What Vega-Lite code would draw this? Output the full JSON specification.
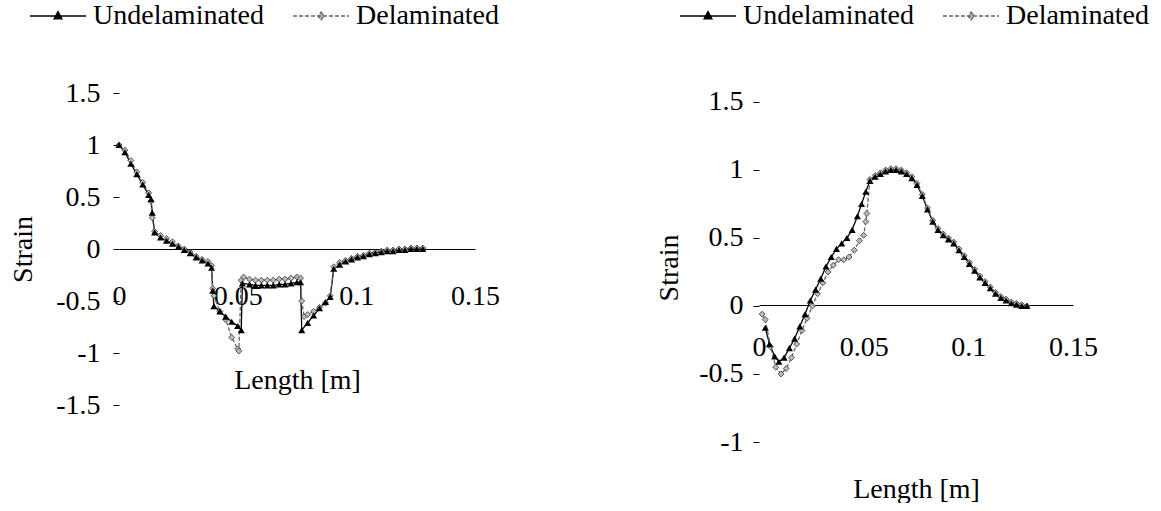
{
  "$schema": "https://vega.github.io/schema/vega-lite/v6.json",
  "padding": {"left": 9, "top": 1, "right": 0, "bottom": 0},
  "background": "white",
  "config": {
    "font": "Liberation Serif",
    "view": {"stroke": null},
    "axis": {"labelFont": "Liberation Serif", "titleFont": "Liberation Serif", "labelFontSize": 28, "titleFontSize": 28, "titleFontWeight": "normal", "labelColor": "#000", "titleColor": "#000", "grid": false, "tickColor": "#000", "domainColor": "#000", "labelFlush": false, "labelOverlap": false},
    "legend": {"labelFont": "Liberation Serif", "labelFontSize": 28, "labelColor": "#000", "labelLimit": 0}
  },
  "datasets": {
    "left": [
      {"series": "Undelaminated", "x": 0.0, "y": 1.0},
      {"series": "Undelaminated", "x": 0.0025, "y": 0.93},
      {"series": "Undelaminated", "x": 0.005, "y": 0.82},
      {"series": "Undelaminated", "x": 0.0075, "y": 0.72},
      {"series": "Undelaminated", "x": 0.01, "y": 0.62},
      {"series": "Undelaminated", "x": 0.0125, "y": 0.52},
      {"series": "Undelaminated", "x": 0.0135, "y": 0.48},
      {"series": "Undelaminated", "x": 0.014, "y": 0.35},
      {"series": "Undelaminated", "x": 0.015, "y": 0.16},
      {"series": "Undelaminated", "x": 0.0175, "y": 0.11},
      {"series": "Undelaminated", "x": 0.02, "y": 0.08},
      {"series": "Undelaminated", "x": 0.0225, "y": 0.05},
      {"series": "Undelaminated", "x": 0.025, "y": 0.02},
      {"series": "Undelaminated", "x": 0.0275, "y": -0.01},
      {"series": "Undelaminated", "x": 0.03, "y": -0.04},
      {"series": "Undelaminated", "x": 0.0325, "y": -0.08},
      {"series": "Undelaminated", "x": 0.035, "y": -0.11},
      {"series": "Undelaminated", "x": 0.0375, "y": -0.14},
      {"series": "Undelaminated", "x": 0.039, "y": -0.18},
      {"series": "Undelaminated", "x": 0.0395, "y": -0.4},
      {"series": "Undelaminated", "x": 0.04, "y": -0.55},
      {"series": "Undelaminated", "x": 0.0425, "y": -0.6},
      {"series": "Undelaminated", "x": 0.045, "y": -0.65},
      {"series": "Undelaminated", "x": 0.0475, "y": -0.7},
      {"series": "Undelaminated", "x": 0.05, "y": -0.74},
      {"series": "Undelaminated", "x": 0.0515, "y": -0.78},
      {"series": "Undelaminated", "x": 0.052, "y": -0.33},
      {"series": "Undelaminated", "x": 0.055, "y": -0.34},
      {"series": "Undelaminated", "x": 0.0575, "y": -0.35},
      {"series": "Undelaminated", "x": 0.06, "y": -0.35},
      {"series": "Undelaminated", "x": 0.0625, "y": -0.35},
      {"series": "Undelaminated", "x": 0.065, "y": -0.35},
      {"series": "Undelaminated", "x": 0.0675, "y": -0.34},
      {"series": "Undelaminated", "x": 0.07, "y": -0.34},
      {"series": "Undelaminated", "x": 0.0725, "y": -0.33},
      {"series": "Undelaminated", "x": 0.075, "y": -0.32},
      {"series": "Undelaminated", "x": 0.0765, "y": -0.32},
      {"series": "Undelaminated", "x": 0.077, "y": -0.78},
      {"series": "Undelaminated", "x": 0.0795, "y": -0.71},
      {"series": "Undelaminated", "x": 0.082, "y": -0.64},
      {"series": "Undelaminated", "x": 0.0845, "y": -0.57},
      {"series": "Undelaminated", "x": 0.087, "y": -0.51},
      {"series": "Undelaminated", "x": 0.089, "y": -0.46},
      {"series": "Undelaminated", "x": 0.0905, "y": -0.19},
      {"series": "Undelaminated", "x": 0.093, "y": -0.15},
      {"series": "Undelaminated", "x": 0.0955, "y": -0.12},
      {"series": "Undelaminated", "x": 0.098, "y": -0.1},
      {"series": "Undelaminated", "x": 0.1005, "y": -0.08},
      {"series": "Undelaminated", "x": 0.103, "y": -0.07},
      {"series": "Undelaminated", "x": 0.1055, "y": -0.05},
      {"series": "Undelaminated", "x": 0.108, "y": -0.04},
      {"series": "Undelaminated", "x": 0.1105, "y": -0.03},
      {"series": "Undelaminated", "x": 0.113, "y": -0.02},
      {"series": "Undelaminated", "x": 0.1155, "y": -0.02},
      {"series": "Undelaminated", "x": 0.118, "y": -0.01},
      {"series": "Undelaminated", "x": 0.1205, "y": -0.01},
      {"series": "Undelaminated", "x": 0.123, "y": 0.0},
      {"series": "Undelaminated", "x": 0.1255, "y": 0.0},
      {"series": "Undelaminated", "x": 0.128, "y": 0.0},
      {"series": "Delaminated", "x": 0.0, "y": 1.0},
      {"series": "Delaminated", "x": 0.0025, "y": 0.95},
      {"series": "Delaminated", "x": 0.005, "y": 0.85},
      {"series": "Delaminated", "x": 0.0075, "y": 0.74},
      {"series": "Delaminated", "x": 0.01, "y": 0.64},
      {"series": "Delaminated", "x": 0.0125, "y": 0.54},
      {"series": "Delaminated", "x": 0.0135, "y": 0.46},
      {"series": "Delaminated", "x": 0.014, "y": 0.3},
      {"series": "Delaminated", "x": 0.015, "y": 0.17},
      {"series": "Delaminated", "x": 0.0175, "y": 0.13},
      {"series": "Delaminated", "x": 0.02, "y": 0.1},
      {"series": "Delaminated", "x": 0.0225, "y": 0.07},
      {"series": "Delaminated", "x": 0.025, "y": 0.03},
      {"series": "Delaminated", "x": 0.0275, "y": 0.0},
      {"series": "Delaminated", "x": 0.03, "y": -0.03},
      {"series": "Delaminated", "x": 0.0325, "y": -0.07},
      {"series": "Delaminated", "x": 0.035, "y": -0.1},
      {"series": "Delaminated", "x": 0.0375, "y": -0.12},
      {"series": "Delaminated", "x": 0.039, "y": -0.16},
      {"series": "Delaminated", "x": 0.0395, "y": -0.38},
      {"series": "Delaminated", "x": 0.04, "y": -0.45},
      {"series": "Delaminated", "x": 0.0425, "y": -0.6},
      {"series": "Delaminated", "x": 0.045, "y": -0.68},
      {"series": "Delaminated", "x": 0.0475, "y": -0.85},
      {"series": "Delaminated", "x": 0.05, "y": -0.96},
      {"series": "Delaminated", "x": 0.0505, "y": -0.98},
      {"series": "Delaminated", "x": 0.0515, "y": -0.3},
      {"series": "Delaminated", "x": 0.0525, "y": -0.27},
      {"series": "Delaminated", "x": 0.055, "y": -0.29},
      {"series": "Delaminated", "x": 0.0575, "y": -0.3},
      {"series": "Delaminated", "x": 0.06, "y": -0.3},
      {"series": "Delaminated", "x": 0.0625, "y": -0.3},
      {"series": "Delaminated", "x": 0.065, "y": -0.3},
      {"series": "Delaminated", "x": 0.0675, "y": -0.29},
      {"series": "Delaminated", "x": 0.07, "y": -0.29},
      {"series": "Delaminated", "x": 0.0725, "y": -0.28},
      {"series": "Delaminated", "x": 0.075, "y": -0.27},
      {"series": "Delaminated", "x": 0.0765, "y": -0.28},
      {"series": "Delaminated", "x": 0.077, "y": -0.5},
      {"series": "Delaminated", "x": 0.078, "y": -0.65},
      {"series": "Delaminated", "x": 0.0795, "y": -0.63},
      {"series": "Delaminated", "x": 0.082, "y": -0.6},
      {"series": "Delaminated", "x": 0.0845, "y": -0.56},
      {"series": "Delaminated", "x": 0.087, "y": -0.52},
      {"series": "Delaminated", "x": 0.089, "y": -0.45},
      {"series": "Delaminated", "x": 0.0905, "y": -0.17},
      {"series": "Delaminated", "x": 0.093, "y": -0.13},
      {"series": "Delaminated", "x": 0.0955, "y": -0.11},
      {"series": "Delaminated", "x": 0.098, "y": -0.09},
      {"series": "Delaminated", "x": 0.1005, "y": -0.07},
      {"series": "Delaminated", "x": 0.103, "y": -0.06},
      {"series": "Delaminated", "x": 0.1055, "y": -0.04},
      {"series": "Delaminated", "x": 0.108, "y": -0.03},
      {"series": "Delaminated", "x": 0.1105, "y": -0.02},
      {"series": "Delaminated", "x": 0.113, "y": -0.01},
      {"series": "Delaminated", "x": 0.1155, "y": -0.01},
      {"series": "Delaminated", "x": 0.118, "y": 0.0},
      {"series": "Delaminated", "x": 0.1205, "y": 0.0},
      {"series": "Delaminated", "x": 0.123, "y": 0.01},
      {"series": "Delaminated", "x": 0.1255, "y": 0.01},
      {"series": "Delaminated", "x": 0.128, "y": 0.01}
    ],
    "right": [
      {"series": "Undelaminated", "x": 0.003, "y": -0.16},
      {"series": "Undelaminated", "x": 0.005, "y": -0.28},
      {"series": "Undelaminated", "x": 0.0075, "y": -0.37},
      {"series": "Undelaminated", "x": 0.0095, "y": -0.41},
      {"series": "Undelaminated", "x": 0.012, "y": -0.38},
      {"series": "Undelaminated", "x": 0.0145, "y": -0.31},
      {"series": "Undelaminated", "x": 0.017, "y": -0.24},
      {"series": "Undelaminated", "x": 0.0195, "y": -0.15},
      {"series": "Undelaminated", "x": 0.022, "y": -0.06},
      {"series": "Undelaminated", "x": 0.0245, "y": 0.04},
      {"series": "Undelaminated", "x": 0.027, "y": 0.12},
      {"series": "Undelaminated", "x": 0.0295, "y": 0.2},
      {"series": "Undelaminated", "x": 0.032, "y": 0.29},
      {"series": "Undelaminated", "x": 0.0345, "y": 0.36},
      {"series": "Undelaminated", "x": 0.037, "y": 0.42},
      {"series": "Undelaminated", "x": 0.0395, "y": 0.46},
      {"series": "Undelaminated", "x": 0.042, "y": 0.5},
      {"series": "Undelaminated", "x": 0.0445, "y": 0.56},
      {"series": "Undelaminated", "x": 0.047, "y": 0.66},
      {"series": "Undelaminated", "x": 0.049, "y": 0.75},
      {"series": "Undelaminated", "x": 0.051, "y": 0.84},
      {"series": "Undelaminated", "x": 0.053, "y": 0.92},
      {"series": "Undelaminated", "x": 0.0555, "y": 0.95},
      {"series": "Undelaminated", "x": 0.058, "y": 0.97},
      {"series": "Undelaminated", "x": 0.0605, "y": 0.99},
      {"series": "Undelaminated", "x": 0.063, "y": 1.0},
      {"series": "Undelaminated", "x": 0.0655, "y": 1.0},
      {"series": "Undelaminated", "x": 0.068, "y": 0.99},
      {"series": "Undelaminated", "x": 0.0705, "y": 0.97},
      {"series": "Undelaminated", "x": 0.073, "y": 0.94},
      {"series": "Undelaminated", "x": 0.0755, "y": 0.89},
      {"series": "Undelaminated", "x": 0.078, "y": 0.81},
      {"series": "Undelaminated", "x": 0.0805, "y": 0.71},
      {"series": "Undelaminated", "x": 0.083, "y": 0.62},
      {"series": "Undelaminated", "x": 0.0855, "y": 0.56},
      {"series": "Undelaminated", "x": 0.088, "y": 0.52},
      {"series": "Undelaminated", "x": 0.0905, "y": 0.49},
      {"series": "Undelaminated", "x": 0.093, "y": 0.46},
      {"series": "Undelaminated", "x": 0.0955, "y": 0.41},
      {"series": "Undelaminated", "x": 0.098, "y": 0.36},
      {"series": "Undelaminated", "x": 0.1005, "y": 0.31},
      {"series": "Undelaminated", "x": 0.103, "y": 0.26},
      {"series": "Undelaminated", "x": 0.1055, "y": 0.21},
      {"series": "Undelaminated", "x": 0.108, "y": 0.17},
      {"series": "Undelaminated", "x": 0.1105, "y": 0.13},
      {"series": "Undelaminated", "x": 0.113, "y": 0.09},
      {"series": "Undelaminated", "x": 0.1155, "y": 0.06},
      {"series": "Undelaminated", "x": 0.118, "y": 0.04},
      {"series": "Undelaminated", "x": 0.1205, "y": 0.02},
      {"series": "Undelaminated", "x": 0.123, "y": 0.01},
      {"series": "Undelaminated", "x": 0.1255, "y": 0.0},
      {"series": "Undelaminated", "x": 0.128, "y": 0.0},
      {"series": "Delaminated", "x": 0.0015, "y": -0.06},
      {"series": "Delaminated", "x": 0.003, "y": -0.1},
      {"series": "Delaminated", "x": 0.0055, "y": -0.3},
      {"series": "Delaminated", "x": 0.008, "y": -0.45},
      {"series": "Delaminated", "x": 0.0105, "y": -0.5},
      {"series": "Delaminated", "x": 0.013, "y": -0.46},
      {"series": "Delaminated", "x": 0.0155, "y": -0.38},
      {"series": "Delaminated", "x": 0.018, "y": -0.28},
      {"series": "Delaminated", "x": 0.0205, "y": -0.18},
      {"series": "Delaminated", "x": 0.023, "y": -0.09},
      {"series": "Delaminated", "x": 0.0255, "y": 0.0},
      {"series": "Delaminated", "x": 0.028, "y": 0.09},
      {"series": "Delaminated", "x": 0.0305, "y": 0.17},
      {"series": "Delaminated", "x": 0.033, "y": 0.25},
      {"series": "Delaminated", "x": 0.0355, "y": 0.3},
      {"series": "Delaminated", "x": 0.038, "y": 0.34},
      {"series": "Delaminated", "x": 0.0405, "y": 0.34},
      {"series": "Delaminated", "x": 0.043, "y": 0.36},
      {"series": "Delaminated", "x": 0.0455, "y": 0.41},
      {"series": "Delaminated", "x": 0.048, "y": 0.48},
      {"series": "Delaminated", "x": 0.05, "y": 0.52},
      {"series": "Delaminated", "x": 0.051, "y": 0.62},
      {"series": "Delaminated", "x": 0.0515, "y": 0.68},
      {"series": "Delaminated", "x": 0.053, "y": 0.93},
      {"series": "Delaminated", "x": 0.0555, "y": 0.96},
      {"series": "Delaminated", "x": 0.058, "y": 0.98},
      {"series": "Delaminated", "x": 0.0605, "y": 1.0},
      {"series": "Delaminated", "x": 0.063, "y": 1.01},
      {"series": "Delaminated", "x": 0.0655, "y": 1.01},
      {"series": "Delaminated", "x": 0.068, "y": 1.0},
      {"series": "Delaminated", "x": 0.0705, "y": 0.98},
      {"series": "Delaminated", "x": 0.073, "y": 0.95},
      {"series": "Delaminated", "x": 0.0755, "y": 0.9},
      {"series": "Delaminated", "x": 0.078, "y": 0.82},
      {"series": "Delaminated", "x": 0.0805, "y": 0.72},
      {"series": "Delaminated", "x": 0.083, "y": 0.63},
      {"series": "Delaminated", "x": 0.0855, "y": 0.57},
      {"series": "Delaminated", "x": 0.088, "y": 0.53},
      {"series": "Delaminated", "x": 0.0905, "y": 0.5},
      {"series": "Delaminated", "x": 0.093, "y": 0.47},
      {"series": "Delaminated", "x": 0.0955, "y": 0.42},
      {"series": "Delaminated", "x": 0.098, "y": 0.37},
      {"series": "Delaminated", "x": 0.1005, "y": 0.32},
      {"series": "Delaminated", "x": 0.103, "y": 0.27},
      {"series": "Delaminated", "x": 0.1055, "y": 0.22},
      {"series": "Delaminated", "x": 0.108, "y": 0.18},
      {"series": "Delaminated", "x": 0.1105, "y": 0.14},
      {"series": "Delaminated", "x": 0.113, "y": 0.1},
      {"series": "Delaminated", "x": 0.1155, "y": 0.07},
      {"series": "Delaminated", "x": 0.118, "y": 0.05},
      {"series": "Delaminated", "x": 0.1205, "y": 0.03},
      {"series": "Delaminated", "x": 0.123, "y": 0.02},
      {"series": "Delaminated", "x": 0.1255, "y": 0.01},
      {"series": "Delaminated", "x": 0.128, "y": 0.0}
    ]
  },
  "spacing": 155,
  "resolve": {"legend": {"color": "independent", "strokeDash": "independent"}},
  "hconcat": [
    {
      "width": 356,
      "height": 312,
      "data": {"name": "left"},
      "layer": [
        {
          "mark": {"type": "line", "strokeWidth": 1.3},
          "encoding": {
            "x": {"field": "x", "type": "quantitative", "scale": {"domain": [0, 0.15], "nice": false, "zero": false},
                  "axis": {"title": "Length [m]", "values": [0, 0.05, 0.1, 0.15], "labelExpr": "toString(datum.value)", "offset": -156, "ticks": false, "domainWidth": 1, "labelPadding": 33, "titlePadding": 56, "labelFlush": false}},
            "y": {"field": "y", "type": "quantitative", "scale": {"domain": [-1.5, 1.5], "nice": false, "zero": false},
                  "axis": {"title": "Strain", "values": [-1.5, -1, -0.5, 0, 0.5, 1, 1.5], "labelExpr": "toString(datum.value)", "domain": false, "tickSize": 6, "labelPadding": 13, "titlePadding": 18, "labelFlush": false}},
            "color": {"field": "series", "type": "nominal", "scale": {"domain": ["Undelaminated", "Delaminated"], "range": ["#000000", "#666666"]},
                      "legend": {"title": null, "orient": "none", "legendX": -76, "legendY": -92, "direction": "horizontal", "symbolSize": 784, "symbolStrokeWidth": 1.3, "labelOffset": 20, "columnPadding": 25, "labelLimit": 0,
                                 "encode": {"symbols": {"update": {"shape": {"signal": "datum.value === 'Undelaminated' ? 'M-2,0H2M0,-0.32L0.28,0.2L-0.28,0.2Z' : 'M-2,0H2M0,-0.28L0.22,0L0,0.28L-0.22,0Z'"}, "fill": {"signal": "datum.value === 'Undelaminated' ? '#000' : '#bbb'"}, "fillOpacity": {"value": 1}}}}}},
            "strokeDash": {"field": "series", "type": "nominal", "scale": {"domain": ["Undelaminated", "Delaminated"], "range": [[1, 0], [4, 2]]}}
          }
        },
        {
          "transform": [{"filter": "datum.series === 'Delaminated'"}],
          "mark": {"type": "point", "shape": "diamond", "size": 35, "filled": true, "fill": "#bbbbbb", "stroke": "#333333", "strokeWidth": 0.8, "opacity": 1},
          "encoding": {"x": {"field": "x", "type": "quantitative"}, "y": {"field": "y", "type": "quantitative"}}
        },
        {
          "transform": [{"filter": "datum.series === 'Undelaminated'"}],
          "mark": {"type": "point", "shape": "triangle-up", "size": 50, "filled": true, "fill": "#000000", "opacity": 1},
          "encoding": {"x": {"field": "x", "type": "quantitative"}, "y": {"field": "y", "type": "quantitative"}}
        }
      ]
    },
    {
      "width": 314,
      "height": 349,
      "data": {"name": "right"},
      "layer": [
        {
          "mark": {"type": "line", "strokeWidth": 1.3},
          "encoding": {
            "x": {"field": "x", "type": "quantitative", "scale": {"domain": [0, 0.15], "nice": false, "zero": false},
                  "axis": {"title": "Length [m]", "values": [0, 0.05, 0.1, 0.15], "labelExpr": "toString(datum.value)", "offset": -137, "ticks": false, "domainWidth": 1, "labelPadding": 28, "titlePadding": 114, "labelFlush": false}},
            "y": {"field": "y", "type": "quantitative", "scale": {"domain": [-1, 1.566], "nice": false, "zero": false},
                  "axis": {"title": "Strain", "values": [-1, -0.5, 0, 0.5, 1, 1.5], "labelExpr": "toString(datum.value)", "domain": false, "tickSize": 6, "labelPadding": 10, "titlePadding": 15, "labelFlush": false}},
            "color": {"field": "series", "type": "nominal", "scale": {"domain": ["Undelaminated", "Delaminated"], "range": ["#000000", "#666666"]},
                      "legend": {"title": null, "orient": "none", "legendX": -66, "legendY": -92, "direction": "horizontal", "symbolSize": 784, "symbolStrokeWidth": 1.3, "labelOffset": 20, "columnPadding": 25, "labelLimit": 0,
                                 "encode": {"symbols": {"update": {"shape": {"signal": "datum.value === 'Undelaminated' ? 'M-2,0H2M0,-0.32L0.28,0.2L-0.28,0.2Z' : 'M-2,0H2M0,-0.28L0.22,0L0,0.28L-0.22,0Z'"}, "fill": {"signal": "datum.value === 'Undelaminated' ? '#000' : '#bbb'"}, "fillOpacity": {"value": 1}}}}}},
            "strokeDash": {"field": "series", "type": "nominal", "scale": {"domain": ["Undelaminated", "Delaminated"], "range": [[1, 0], [3, 2]]}}
          }
        },
        {
          "transform": [{"filter": "datum.series === 'Delaminated'"}],
          "mark": {"type": "point", "shape": "diamond", "size": 35, "filled": true, "fill": "#bbbbbb", "stroke": "#333333", "strokeWidth": 0.8, "opacity": 1},
          "encoding": {"x": {"field": "x", "type": "quantitative"}, "y": {"field": "y", "type": "quantitative"}}
        },
        {
          "transform": [{"filter": "datum.series === 'Undelaminated'"}],
          "mark": {"type": "point", "shape": "triangle-up", "size": 50, "filled": true, "fill": "#000000", "opacity": 1},
          "encoding": {"x": {"field": "x", "type": "quantitative"}, "y": {"field": "y", "type": "quantitative"}}
        }
      ]
    }
  ]
}
